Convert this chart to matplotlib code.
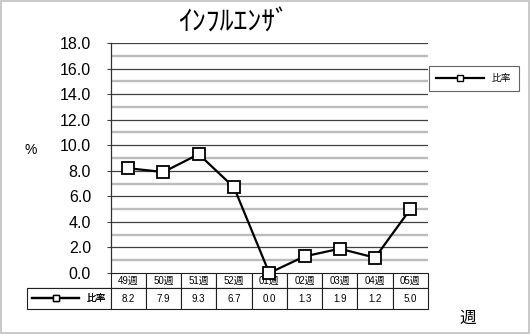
import numpy as np
import matplotlib
matplotlib.use('Agg')
import matplotlib.pyplot as plt
from matplotlib.lines import Line2D
from matplotlib.patches import Rectangle

weeks = ['49週', '50週', '51週', '52週', '01週', '02週', '03週', '04週', '05週']
ratio = [8.2, 7.9, 9.3, 6.7, 0.0, 1.3, 1.9, 1.2, 5.0]
series_name = '比率'
title = 'ｲﾝﾌﾙｴﾝｻﾞ'

plt.rcParams['font.family'] = ['Liberation Sans', 'Noto Sans CJK JP']

W, H = 530, 334
fig = plt.figure(figsize=(W / 100, H / 100), dpi=100)

# plot area in pixels
px0, px1, py0, py1 = 110.5, 428, 43, 273
ax = fig.add_axes([px0 / W, 1 - py1 / H, (px1 - px0) / W, (py1 - py0) / H])

x = np.arange(len(weeks))
ax.plot(x, ratio, color='black', lw=1.6, marker='s', ms=8.8,
        mfc='white', mec='black', mew=1.3, clip_on=False, zorder=5)

ax.set_xlim(-0.5, len(weeks) - 0.5)
ax.set_ylim(0, 18)
ax.set_yticks(np.arange(0, 18.1, 2))
ax.set_yticklabels([f'{v:.1f}' for v in np.arange(0, 18.1, 2)], fontsize=11.5)
ax.set_xticks([])
ax.tick_params(axis='y', direction='out', length=3, width=0.8, pad=11, color='#404040')

for v in np.arange(1, 18, 2):
    ax.axhline(v, color='#bcbcbc', lw=1.7, zorder=1)
for v in np.arange(2, 18.1, 2):
    ax.axhline(v, color='#404040', lw=0.9, zorder=1)

for s in ['right', 'bottom', 'top']:
    ax.spines[s].set_visible(False)
ax.spines['left'].set_color('#303030')
ax.spines['left'].set_linewidth(0.9)

# data table under the plot
pw = px1 - px0
ph = py1 - py0
lab_w = (px0 - 27) / pw
col_w = 1.0 / len(weeks)
h0 = 15 / ph
h1 = 21 / ph
cells = [[''] + weeks, [''] + [f'{v:.1f}' for v in ratio]]
tbl = ax.table(cellText=cells, cellLoc='center',
               bbox=[-lab_w, -(h0 + h1), 1 + lab_w, h0 + h1])
tbl.auto_set_font_size(False)
tbl.set_fontsize(7)
for (r, c), cell in tbl.get_celld().items():
    cell.set_width(lab_w if c == 0 else col_w)
    cell.set_height(h0 if r == 0 else h1)
    cell.set_edgecolor('#202020')
    cell.set_linewidth(0.8)
tbl[0, 0].visible_edges = 'B'

# legend sample inside the table's first cell
h = Line2D([], [], color='black', lw=1.6, marker='s', ms=3.8,
           mfc='white', mec='black', mew=1.0)
leg_tbl = ax.legend([h], [series_name], loc='center', frameon=False,
                    bbox_to_anchor=(-lab_w, -(h0 + h1), lab_w, h1),
                    fontsize=7, handlelength=4.9, handletextpad=0.7,
                    borderpad=0, borderaxespad=0)
ax.add_artist(leg_tbl)

# legend on the right
leg = fig.legend([h], [series_name], loc='upper left',
                 bbox_to_anchor=(429 / W, 1 - 91 / H, 90 / W, 25 / H), mode='expand',
                 fontsize=7, handlelength=4.9, handletextpad=0.8,
                 fancybox=False, borderaxespad=0, borderpad=0.75)
leg.get_frame().set_edgecolor('#404040')
leg.get_frame().set_linewidth(0.8)

fig.text(234 / W, 1 - 23 / H, title, fontsize=20, ha='center', va='center',
         family=['Noto Sans CJK JP'])
fig.text(31 / W, 1 - 150 / H, '%', fontsize=10, ha='center', va='center')
fig.text(468 / W, 1 - 318 / H, '週', fontsize=12, ha='center', va='center',
         family=['Noto Sans CJK JP'])

fig.patches.append(Rectangle((1 / W, 1 / H), 1 - 2 / W, 1 - 2 / H,
                             transform=fig.transFigure, fill=False,
                             ec='#c0c0c0', lw=1.2))

fig.savefig('out.png', dpi=100)
